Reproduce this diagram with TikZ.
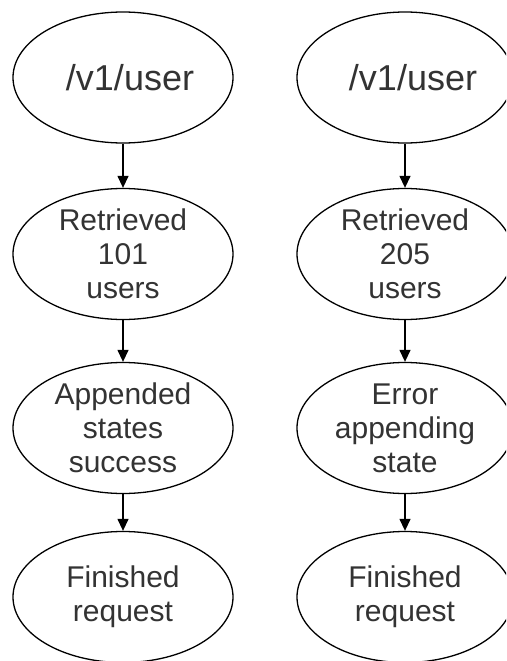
\documentclass[tikz,border=0pt]{standalone}
\usepackage{fontspec}
\setmainfont{Liberation Sans}
\usetikzlibrary{shapes.geometric,arrows.meta}
\begin{document}
\begin{tikzpicture}[x=1pt,y=-1pt,
  state/.style={ellipse, draw, line width=1.3pt, minimum width=220pt,
    minimum height=131pt, inner sep=0pt, align=center, text=black!80,
    font=\fontsize{30}{34}\selectfont},
  narrow/.style={minimum width=216pt},
  endpoint/.style={state, font=\fontsize{36}{40}\selectfont},
  flow/.style={-{Triangle[length=12pt,width=11pt]}, line width=1.3pt}]
\useasboundingbox (0,0) rectangle (506,661);
\clip (0,0) rectangle (506,661);
\fill[white] (0,0) rectangle (506,661);

% left column: successful request
\node[endpoint] (l1) at (123,77.5) {\hspace*{14pt}/v1/user};
\node[state] (l2) at (123,254) {Retrieved\\101\\users};
\node[state] (l3) at (123,428) {Appended\\states\\success};
\node[state] (l4) at (123,597) {Finished\\request};

% right column: failing request
\node[endpoint,narrow] (r1) at (405,77.5) {\hspace*{16pt}/v1/user};
\node[state,narrow] (r2) at (405,254) {Retrieved\\205\\users};
\node[state,narrow] (r3) at (405,428) {Error\\appending\\state};
\node[state,narrow] (r4) at (405,597) {Finished\\request};

\draw[flow] (l1) -- (l2);
\draw[flow] (l2) -- (l3);
\draw[flow] (l3) -- (l4);
\draw[flow] (r1) -- (r2);
\draw[flow] (r2) -- (r3);
\draw[flow] (r3) -- (r4);
\end{tikzpicture}
\end{document}
